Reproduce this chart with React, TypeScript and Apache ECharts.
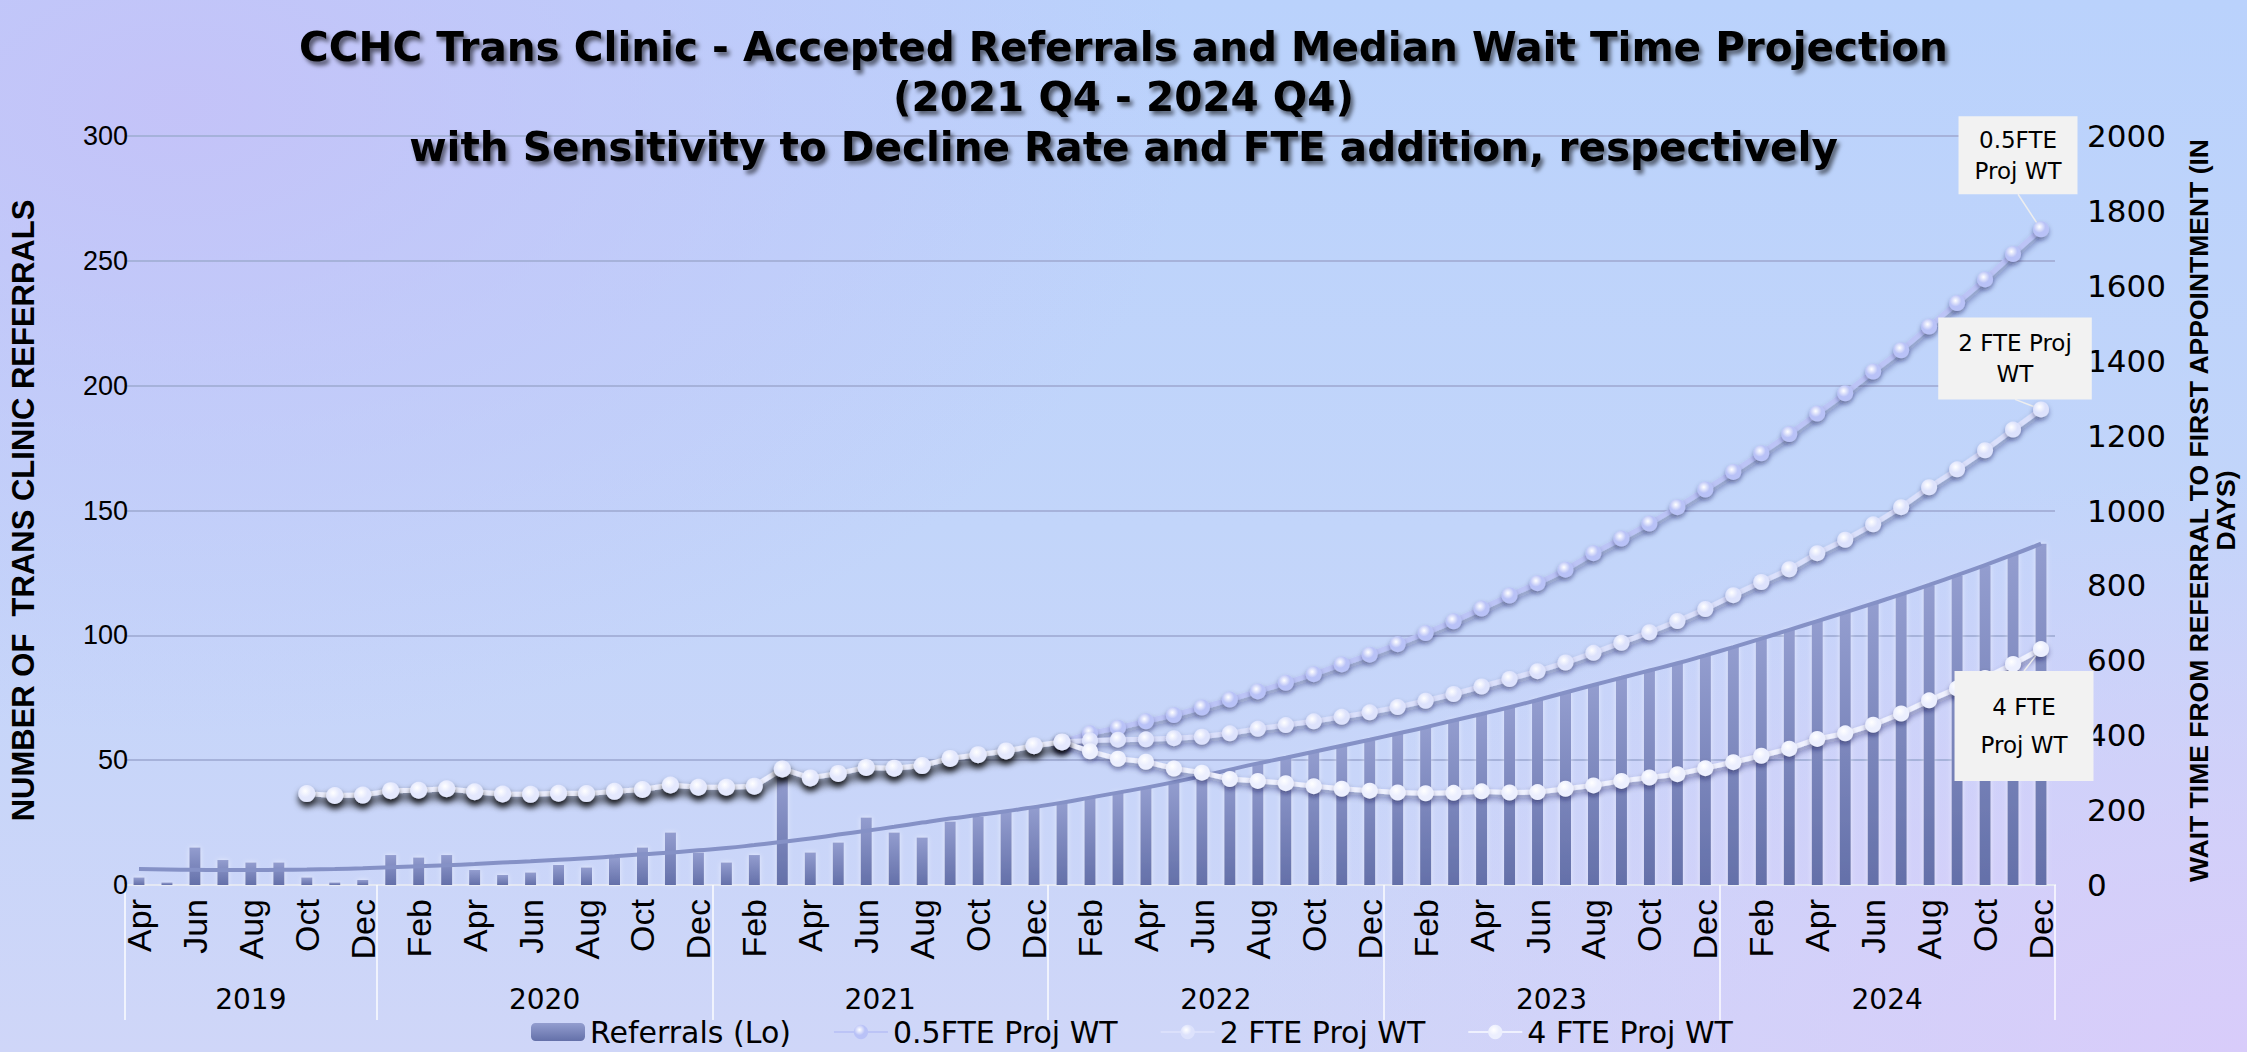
import { useEffect, useRef } from 'react';
import * as echarts from 'echarts';

const months = [
  'Apr 2019', 'May 2019', 'Jun 2019', 'Jul 2019', 'Aug 2019', 'Sep 2019', 'Oct 2019', 'Nov 2019', 'Dec 2019',
  'Jan 2020', 'Feb 2020', 'Mar 2020', 'Apr 2020', 'May 2020', 'Jun 2020', 'Jul 2020', 'Aug 2020', 'Sep 2020', 'Oct 2020', 'Nov 2020', 'Dec 2020',
  'Jan 2021', 'Feb 2021', 'Mar 2021', 'Apr 2021', 'May 2021', 'Jun 2021', 'Jul 2021', 'Aug 2021', 'Sep 2021', 'Oct 2021', 'Nov 2021', 'Dec 2021',
  'Jan 2022', 'Feb 2022', 'Mar 2022', 'Apr 2022', 'May 2022', 'Jun 2022', 'Jul 2022', 'Aug 2022', 'Sep 2022', 'Oct 2022', 'Nov 2022', 'Dec 2022',
  'Jan 2023', 'Feb 2023', 'Mar 2023', 'Apr 2023', 'May 2023', 'Jun 2023', 'Jul 2023', 'Aug 2023', 'Sep 2023', 'Oct 2023', 'Nov 2023', 'Dec 2023',
  'Jan 2024', 'Feb 2024', 'Mar 2024', 'Apr 2024', 'May 2024', 'Jun 2024', 'Jul 2024', 'Aug 2024', 'Sep 2024', 'Oct 2024', 'Nov 2024', 'Dec 2024',
];

// Accepted referrals per month (left axis)
const referrals = [
  3, 1, 15, 10, 9, 9, 3, 1, 2,
  12, 11, 12, 6, 4, 5, 8, 7, 11, 15, 21, 13,
  9, 12, 43, 13, 17, 27, 21, 19, 25.4, 27.4, 29.2, 31.1,
  33.0, 35.0, 37.0, 39.0, 41.0, 43.5, 46.2, 48.7, 51.0, 53.3, 55.7, 58.0,
  60.6, 63.2, 65.9, 68.5, 71.2, 74.1, 77.1, 80.1, 83.0, 85.8, 88.7, 92.0,
  95.3, 98.7, 102.2, 105.7, 109.1, 112.7, 116.4, 120.1, 124.0, 128.0, 132.3, 136.7,
];

// Trend line over referrals (left axis)
const referralTrend = [
  6.4, 6.2, 6.1, 6.0, 6.0, 6.1, 6.2, 6.4, 6.7,
  7.1, 7.5, 7.9, 8.4, 9.0, 9.5, 10.1, 10.7, 11.5, 12.3, 13.0, 13.9,
  14.8, 16.0, 17.3, 18.6, 20.2, 21.7, 23.3, 25.0, 26.6, 28.0, 29.5, 31.2,
  33.0, 35.0, 37.0, 39.0, 41.2, 43.6, 46.2, 48.7, 51.0, 53.4, 55.8, 58.2,
  60.7, 63.2, 65.9, 68.5, 71.2, 74.1, 77.1, 80.1, 83.0, 85.9, 88.8, 92.0,
  95.3, 98.7, 102.2, 105.7, 109.2, 112.8, 116.4, 120.2, 124.1, 128.1, 132.3, 136.7,
];

// Observed median wait time (days), Oct 2019 - Jan 2022 (right axis)
const waitHistoryStart = 'Oct 2019';
const waitHistory = [
  244, 239, 240,
  252, 253, 257, 249, 243, 242, 245, 244, 250, 255, 267, 261,
  261, 264, 310, 286, 298, 314, 312, 319, 338, 348, 358, 372,
  382,
];

// Projections, Feb 2022 - Dec 2024 (right axis)
const proj05 = [
  405, 420, 437, 454, 474, 495, 517, 540, 563, 589, 615,
  643, 673, 704, 738, 773, 806, 842, 886, 925, 965, 1009, 1056,
  1103, 1153, 1204, 1259, 1313, 1371, 1428, 1491, 1554, 1617, 1685, 1751,
];
const proj2 = [
  386, 388, 389, 392, 396, 405, 417, 427, 437, 449, 461,
  475, 492, 510, 530, 550, 571, 594, 620, 647, 675, 705, 737,
  774, 809, 843, 886, 922, 963, 1009, 1062, 1110, 1161, 1216, 1270,
];
const proj4 = [
  357, 337, 329, 311, 300, 283, 278, 272, 264, 257, 252,
  247, 245, 246, 250, 247, 248, 257, 266, 278, 287, 296, 312,
  328, 345, 364, 390, 405, 428, 458, 493, 525, 553, 590, 630,
];

const leftTicks = { min: 0, max: 300, interval: 50 };
const rightTicks = { min: 0, max: 2000, interval: 200 };

const NARROW = '"Liberation Sans", Arial, sans-serif';
const WIDE = '"DejaVu Sans", Verdana, sans-serif';

export default function App() {
  const ref = useRef<HTMLDivElement>(null);

  useEffect(() => {
    document.body.style.margin = '0';
    document.body.style.overflow = 'hidden';
    if (!ref.current) return;
    const chart = echarts.init(ref.current, null, { renderer: 'svg' });

    const histIdx = months.indexOf(waitHistoryStart);
    const joinIdx = histIdx + waitHistory.length - 1;
    const lastIdx = months.length - 1;
    const histData = months.map((_, i) =>
      i >= histIdx && i <= joinIdx ? waitHistory[i - histIdx] : null
    );

    const projData = (arr: number[], text: string, pad: number[], lh: number) =>
      months.map((_, i) => {
        if (i < joinIdx) return null;
        if (i === joinIdx) return waitHistory[waitHistory.length - 1];
        const v = arr[i - joinIdx - 1];
        if (i === lastIdx) {
          return {
            value: v,
            label: {
              show: true,
              formatter: text,
              position: 'inside',
              backgroundColor: '#f2f2f2',
              padding: pad,
              color: '#000',
              fontFamily: WIDE,
              fontSize: 23,
              lineHeight: lh,
              align: 'center',
            },
          };
        }
        return v;
      });

    // year groups
    const yearOf = (m: string) => m.slice(4);
    const bounds: number[] = [0];
    const yearNames: string[] = [yearOf(months[0])];
    months.forEach((m, i) => {
      if (i > 0 && yearOf(m) !== yearOf(months[i - 1])) {
        bounds.push(i);
        yearNames.push(yearOf(m));
      }
    });
    bounds.push(months.length);
    const centers = yearNames.map((_, k) => (bounds[k] + bounds[k + 1]) / 2);

    const bead = (c: string) =>
      new echarts.graphic.RadialGradient(0.4, 0.35, 0.75, [
        { offset: 0, color: '#ffffff' },
        { offset: 0.5, color: c },
        { offset: 1, color: c },
      ]);

    const projSeries = (
      name: string,
      arr: number[],
      text: string,
      lineColor: string,
      dotColor: string,
      dx: number,
      dy: number,
      pad: number[],
      lh: number,
      z: number
    ) => ({
      name,
      type: 'line',
      yAxisIndex: 1,
      data: projData(arr, text, pad, lh),
      symbol: 'circle',
      symbolSize: 16,
      z,
      lineStyle: {
        color: lineColor,
        width: 5,
        shadowColor: 'rgba(30,30,80,0.45)',
        shadowBlur: 6,
        shadowOffsetY: 4,
        shadowOffsetX: 1,
      },
      itemStyle: {
        color: bead(dotColor),
        shadowColor: 'rgba(30,30,80,0.4)',
        shadowBlur: 5,
        shadowOffsetY: 3,
      },
      labelLayout: { dx, dy },
      labelLine: { show: true, lineStyle: { color: '#eeeeee', width: 1.5 } },
    });

    const option: any = {
      animation: false,
      backgroundColor: 'transparent',
      title: {
        text: 'CCHC Trans Clinic - Accepted Referrals and Median Wait Time Projection\n(2021 Q4 - 2024 Q4)\nwith Sensitivity to Decline Rate and FTE addition, respectively',
        left: 'center',
        top: 17,
        textStyle: {
          fontFamily: WIDE,
          fontWeight: 'bold',
          fontSize: 40.5,
          lineHeight: 50,
          color: '#000',
          textShadowColor: 'rgba(0,0,0,0.55)',
          textShadowBlur: 4,
          textShadowOffsetX: 3,
          textShadowOffsetY: 4,
        },
      },
      legend: {
        data: ['Referrals (Lo)', '0.5FTE Proj WT', '2 FTE Proj WT', '4 FTE Proj WT'],
        top: 1012,
        left: 526,
        itemWidth: 54,
        itemHeight: 18,
        itemGap: 42,
        textStyle: { fontFamily: WIDE, fontSize: 30, color: '#000' },
      },
      grid: { left: 125, right: 169, top: 136, bottom: 167 },
      xAxis: [
        {
          type: 'category',
          data: months,
          boundaryGap: true,
          axisLine: { show: true, lineStyle: { color: 'rgba(255,255,255,0.7)', width: 2 } },
          axisTick: { show: false },
          axisLabel: {
            interval: 1,
            rotate: 90,
            margin: 14,
            formatter: (v: string) => v.slice(0, 3),
            fontFamily: NARROW,
            fontSize: 34,
            color: '#000',
          },
        },
        {
          type: 'value',
          gridIndex: 0,
          position: 'bottom',
          min: 0,
          max: months.length,
          axisLine: { show: false },
          splitLine: { show: false },
          axisTick: {
            show: true,
            customValues: bounds,
            length: 135,
            lineStyle: { color: 'rgba(255,255,255,0.7)', width: 2 },
          },
          axisLabel: {
            customValues: centers,
            margin: 100,
            formatter: (v: number) => {
              const k = centers.findIndex((c) => Math.abs(c - v) < 0.01);
              return k >= 0 ? yearNames[k] : '';
            },
            fontFamily: WIDE,
            fontSize: 28,
            color: '#000',
          },
        },
      ],
      yAxis: [
        {
          type: 'value',
          ...leftTicks,
          name: 'NUMBER OF  TRANS CLINIC REFERRALS',
          nameLocation: 'middle',
          nameRotate: 90,
          nameGap: 86,
          nameTextStyle: { fontFamily: NARROW, fontWeight: 'bold', fontSize: 31, color: '#000' },
          axisLine: { show: false },
          axisTick: { show: false },
          axisLabel: {
            fontFamily: NARROW,
            fontSize: 27,
            color: '#000',
            margin: -3,
            formatter: (v: number) => String(v),
          },
          splitLine: { lineStyle: { color: '#a6b2da', width: 2 } },
        },
        {
          type: 'value',
          ...rightTicks,
          position: 'right',
          name: 'WAIT TIME FROM REFERRAL TO FIRST APPOINTMENT (IN\nDAYS)',
          nameLocation: 'middle',
          nameRotate: 90,
          nameGap: 130,
          nameTextStyle: { fontFamily: NARROW, fontWeight: 'bold', fontSize: 26.5, lineHeight: 27, color: '#000', align: 'center' },
          axisLine: { show: false },
          axisTick: { show: false },
          axisLabel: {
            fontFamily: WIDE,
            fontSize: 31,
            color: '#000',
            margin: 32,
            formatter: (v: number) => String(v),
          },
          splitLine: { show: false },
        },
      ],
      series: [
        {
          name: 'Referrals (Lo)',
          type: 'bar',
          data: referrals,
          barWidth: 11,
          z: 2,
          itemStyle: {
            color: new echarts.graphic.LinearGradient(0, 0, 0, 1, [
              { offset: 0, color: '#939dcf' },
              { offset: 1, color: '#6470a9' },
            ]),
            shadowColor: 'rgba(255,255,255,0.55)',
            shadowBlur: 5,
          },
        },
        {
          name: 'Trend',
          type: 'line',
          data: referralTrend,
          smooth: true,
          symbol: 'none',
          z: 3,
          lineStyle: { color: '#8591c6', width: 4 },
        },
        projSeries('0.5FTE Proj WT', proj05, '0.5FTE\nProj WT', '#bcc4f6', '#b9c2f7', -23, -74, [8, 16, 8, 16], 31, 4),
        projSeries('2 FTE Proj WT', proj2, '2 FTE Proj\nWT', '#dbe0fb', '#dde2fc', -26, -51, [10, 20, 10, 20], 31, 5),
        projSeries('4 FTE Proj WT', proj4, '4 FTE\nProj WT', '#eff1fe', '#eceffe', -17, 77, [17, 26, 17, 26], 38, 6),
        {
          name: 'Observed WT',
          type: 'line',
          yAxisIndex: 1,
          data: histData,
          symbol: 'circle',
          symbolSize: 17,
          z: 7,
          lineStyle: {
            color: '#eef0ff',
            width: 5,
            shadowColor: 'rgba(0,0,0,0.95)',
            shadowBlur: 8,
            shadowOffsetY: 6,
            shadowOffsetX: 2,
          },
          itemStyle: {
            color: bead('#e4e8fd'),
            shadowColor: 'rgba(0,0,0,0.8)',
            shadowBlur: 6,
            shadowOffsetY: 5,
          },
        },
      ],
    };

    chart.setOption(option);
    return () => chart.dispose();
  }, []);

  return (
    <div
      ref={ref}
      style={{
        width: '2247px',
        height: '1052px',
        background:
          'radial-gradient(ellipse 45% 60% at 8% 10%, rgba(196,194,248,0.95), rgba(196,194,248,0) 100%),' +
          'radial-gradient(ellipse 45% 55% at 100% 100%, rgba(216,204,250,1), rgba(216,204,250,0) 100%),' +
          'linear-gradient(180deg, #bad2fc 0%, #c2d5fa 50%, #cfd6f8 100%)',
      }}
    />
  );
}
